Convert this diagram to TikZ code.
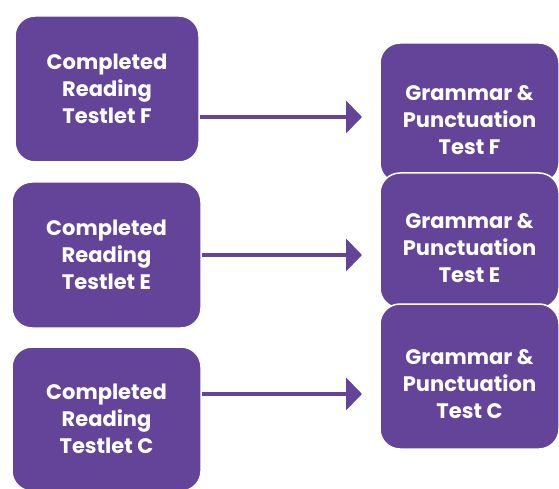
\documentclass[tikz,border=0pt]{standalone}
\usepackage{fontspec}
\setmainfont{Poppins}
\usetikzlibrary{arrows.meta,positioning}
\definecolor{testpurple}{RGB}{99,68,152}
\newcommand{\lowstrut}{\rule{0pt}{30pt}}

\begin{document}
\begin{tikzpicture}[
x=1pt,y=-1pt,
>={Triangle[length=16pt,width=32pt]},
box/.style={
	fill=testpurple,
	draw=white,
	line width=1.5pt,
	rounded corners=20pt,
	text=white,
	align=center,
	font=\bfseries\fontsize{21}{27}\selectfont,
	inner sep=0pt
},
link/.style={
	->,
	draw=testpurple,
	fill=testpurple,
	line width=4pt
}
]
\fill[white] (0,0) rectangle (559,489);
\useasboundingbox (0,0) rectangle (559,489);

\foreach \x/\y/\w/\h/\l in {107/89/184/146/F,106.5/255/189/146/E,106.5/419/189/144/C}
\node[box,minimum width=\w,minimum height=\h] (read\l) at (\x,\y) {Completed\\Reading\\Testlet \l};

% right boxes overlap, C on top
\foreach \y/\h/\l in {113/140/F,240.5/135/E,376.5/145/C}
\node[box,minimum width=179,minimum height=\h] (gram\l) at (469.5,\y) {\lowstrut Grammar \&\\Punctuation\\Test \l};

\foreach \y/\l in {117/F,255/E,394/C}
\coordinate (tip\l) at (362,\y);

\draw[link] (readF.east |- tipF) -- (tipF);
\draw[link] (readE.east |- tipE) -- (tipE);
\draw[link] (readC.east |- tipC) -- (tipC);
\end{tikzpicture}
\end{document}
